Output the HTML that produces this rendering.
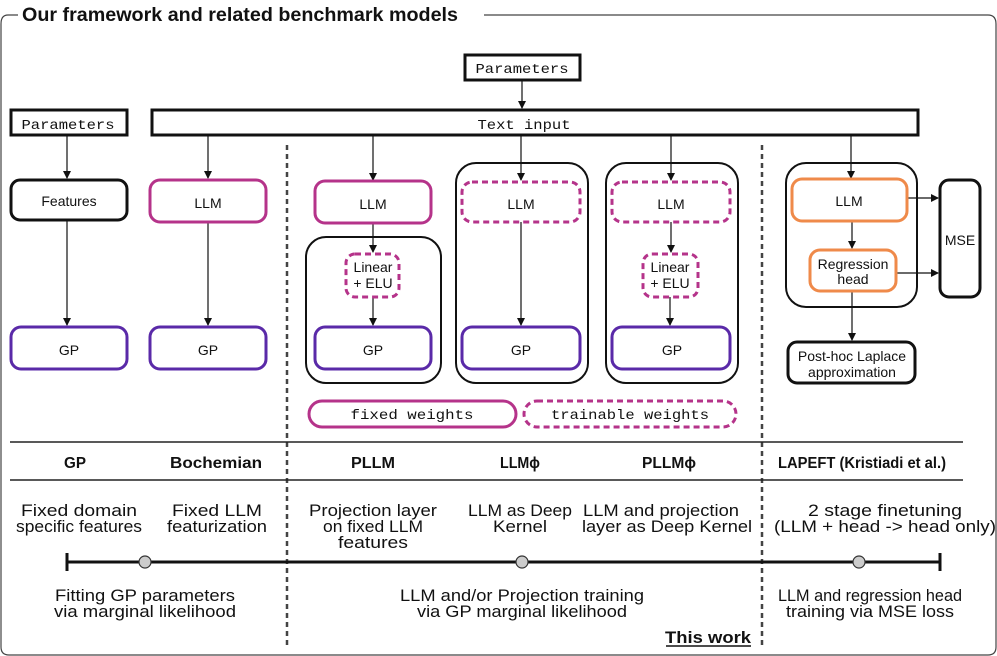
<!DOCTYPE html>
<html><head><meta charset="utf-8"><style>
html,body{margin:0;padding:0;background:#fff}
svg{display:block}
text{font-family:"Liberation Sans",sans-serif;fill:#111}
.m{font-family:"Liberation Mono",monospace}
</style></head><body>
<svg width="997" height="656" viewBox="0 0 997 656" xmlns="http://www.w3.org/2000/svg">
<defs><marker id="a" markerWidth="8" markerHeight="8" refX="7" refY="4" orient="auto" markerUnits="userSpaceOnUse"><path d="M0,0 L8,4 L0,8z" fill="#111"/></marker></defs>
<path d="M18,15 H8 Q1,15 1,24 V647 Q1,655 9,655 H988 Q996,655 996,647 V24 Q996,15 988,15 H484" fill="none" stroke="#444" stroke-width="1.2"/>
<text x="22" y="21" font-size="19" font-weight="bold" fill="#222" textLength="436" lengthAdjust="spacingAndGlyphs">Our framework and related benchmark models</text>
<line x1="287" y1="145" x2="287" y2="648" stroke="#444" stroke-width="2.5" stroke-dasharray="5,4"/>
<line x1="762" y1="145" x2="762" y2="648" stroke="#444" stroke-width="2.5" stroke-dasharray="5,4"/>
<g fill="none" stroke="#111" stroke-width="3">
<rect x="465" y="55" width="115" height="25"/>
<rect x="11" y="110" width="116" height="25"/>
<rect x="152" y="110" width="766" height="25"/>
</g>
<text class="m" x="522" y="73" font-size="14" text-anchor="middle" textLength="93" lengthAdjust="spacingAndGlyphs">Parameters</text>
<text class="m" x="68" y="129" font-size="14" text-anchor="middle" textLength="93" lengthAdjust="spacingAndGlyphs">Parameters</text>
<text class="m" x="524" y="129" font-size="14" text-anchor="middle" textLength="93" lengthAdjust="spacingAndGlyphs">Text input</text>
<g fill="none" stroke="#111" stroke-width="2">
<rect x="306" y="237" width="135" height="146" rx="20"/>
<rect x="456" y="163" width="132" height="220" rx="20"/>
<rect x="606" y="163" width="132" height="220" rx="20"/>
<rect x="786" y="163" width="131" height="144" rx="20"/>
</g>
<g stroke="#111" stroke-width="1.2" marker-end="url(#a)">
<line x1="522" y1="80" x2="522" y2="108"/>
<line x1="67" y1="135" x2="67" y2="178"/>
<line x1="208" y1="135" x2="208" y2="178"/>
<line x1="373" y1="135" x2="373" y2="180"/>
<line x1="521" y1="135" x2="521" y2="180"/>
<line x1="671" y1="135" x2="671" y2="180"/>
<line x1="851" y1="135" x2="851" y2="178"/>
<line x1="67" y1="220" x2="67" y2="325"/>
<line x1="208" y1="222" x2="208" y2="325"/>
<line x1="373" y1="223" x2="373" y2="252"/>
<line x1="373" y1="297" x2="373" y2="325"/>
<line x1="521" y1="222" x2="521" y2="325"/>
<line x1="671" y1="222" x2="671" y2="252"/>
<line x1="670" y1="297" x2="670" y2="325"/>
<line x1="852" y1="221" x2="852" y2="248"/>
<line x1="852" y1="291" x2="852" y2="340"/>
<line x1="907" y1="198" x2="938" y2="198"/>
<line x1="896" y1="273" x2="938" y2="273"/>
</g>
<rect x="11" y="180" width="116" height="40" rx="9" fill="#fff" stroke="#111" stroke-width="3"/>
<g fill="#fff" stroke="#b5338a" stroke-width="3">
<rect x="150" y="180" width="116" height="42" rx="10"/>
<rect x="315" y="181" width="116" height="42" rx="10"/>
<rect x="309" y="401" width="207" height="26" rx="13"/>
</g>
<g fill="#fff" stroke="#b5338a" stroke-width="3" stroke-dasharray="6,4">
<rect x="462" y="182" width="118" height="40" rx="10"/>
<rect x="612" y="182" width="118" height="40" rx="10"/>
<rect x="346" y="254" width="53" height="43" rx="9"/>
<rect x="643" y="254" width="55" height="43" rx="9"/>
<rect x="524" y="401" width="212" height="26" rx="13"/>
</g>
<g fill="#fff" stroke="#5a2aa8" stroke-width="3">
<rect x="11" y="327" width="116" height="42" rx="10"/>
<rect x="150" y="327" width="116" height="42" rx="10"/>
<rect x="315" y="327" width="116" height="42" rx="10"/>
<rect x="462" y="327" width="118" height="42" rx="10"/>
<rect x="612" y="327" width="118" height="42" rx="10"/>
</g>
<g fill="#fff" stroke="#ef8a4a" stroke-width="3">
<rect x="792" y="179" width="115" height="42" rx="10"/>
<rect x="810" y="250" width="86" height="41" rx="10"/>
</g>
<rect x="940" y="180" width="40" height="117" rx="9" fill="#fff" stroke="#111" stroke-width="3"/>
<rect x="788" y="342" width="127" height="41" rx="9" fill="#fff" stroke="#111" stroke-width="3"/>
<g font-size="14" text-anchor="middle">
<text x="69" y="206">Features</text>
<text x="208" y="208">LLM</text>
<text x="373" y="209">LLM</text>
<text x="521" y="209">LLM</text>
<text x="671" y="209">LLM</text>
<text x="849" y="206">LLM</text>
<text x="69" y="355">GP</text><text x="208" y="355">GP</text><text x="373" y="355">GP</text><text x="521" y="355">GP</text><text x="672" y="355">GP</text>
<text x="373" y="272">Linear</text><text x="373" y="288">+ ELU</text>
<text x="670" y="272">Linear</text><text x="670" y="288">+ ELU</text>
<text x="853" y="269">Regression</text><text x="853" y="284">head</text>
<text x="960" y="245">MSE</text>
<text x="852" y="361">Post-hoc Laplace</text><text x="852" y="377">approximation</text>
</g>
<text class="m" x="412" y="419" font-size="14" text-anchor="middle" textLength="123" lengthAdjust="spacingAndGlyphs">fixed weights</text>
<text class="m" x="630" y="419" font-size="14" text-anchor="middle" textLength="158" lengthAdjust="spacingAndGlyphs">trainable weights</text>
<line x1="10" y1="442" x2="963" y2="442" stroke="#222" stroke-width="1.5"/>
<line x1="10" y1="480" x2="963" y2="480" stroke="#222" stroke-width="1.5"/>
<g font-size="16" text-anchor="middle" font-weight="bold">
<text x="75" y="468" textLength="22" lengthAdjust="spacingAndGlyphs">GP</text>
<text x="216" y="468" textLength="92" lengthAdjust="spacingAndGlyphs">Bochemian</text>
<text x="373" y="468" textLength="44" lengthAdjust="spacingAndGlyphs">PLLM</text>
<text x="520" y="468" textLength="40" lengthAdjust="spacingAndGlyphs">LLMϕ</text>
<text x="669" y="468" textLength="54" lengthAdjust="spacingAndGlyphs">PLLMϕ</text>
<text x="862" y="468" textLength="168" lengthAdjust="spacingAndGlyphs">LAPEFT (Kristiadi et al.)</text>
</g>
<g font-size="17" text-anchor="middle">
<text x="79" y="516" textLength="116" lengthAdjust="spacingAndGlyphs">Fixed domain</text><text x="79" y="532" textLength="126" lengthAdjust="spacingAndGlyphs">specific features</text>
<text x="217" y="516" textLength="90" lengthAdjust="spacingAndGlyphs">Fixed LLM</text><text x="217" y="532" textLength="100" lengthAdjust="spacingAndGlyphs">featurization</text>
<text x="373" y="516" textLength="128" lengthAdjust="spacingAndGlyphs">Projection layer</text><text x="373" y="532" textLength="100" lengthAdjust="spacingAndGlyphs">on fixed LLM</text><text x="373" y="548" textLength="70" lengthAdjust="spacingAndGlyphs">features</text>
<text x="520" y="516" textLength="104" lengthAdjust="spacingAndGlyphs">LLM as Deep</text><text x="520" y="532" textLength="54" lengthAdjust="spacingAndGlyphs">Kernel</text>
<text x="661" y="516" textLength="156" lengthAdjust="spacingAndGlyphs">LLM and projection</text><text x="667" y="532" textLength="170" lengthAdjust="spacingAndGlyphs">layer as Deep Kernel</text>
<text x="885" y="516" textLength="154" lengthAdjust="spacingAndGlyphs">2 stage finetuning</text><text x="885" y="532" textLength="222" lengthAdjust="spacingAndGlyphs">(LLM + head  -&gt; head only)</text>
<text x="145" y="601" textLength="180" lengthAdjust="spacingAndGlyphs">Fitting GP parameters</text><text x="145" y="617" textLength="182" lengthAdjust="spacingAndGlyphs">via marginal likelihood</text>
<text x="522" y="601" textLength="244" lengthAdjust="spacingAndGlyphs">LLM and/or Projection training</text><text x="522" y="617" textLength="210" lengthAdjust="spacingAndGlyphs">via GP marginal likelihood</text>
<text x="870" y="601" textLength="184" lengthAdjust="spacingAndGlyphs">LLM and regression head</text><text x="870" y="617" textLength="168" lengthAdjust="spacingAndGlyphs">training via MSE loss</text>
<text x="708" y="643" font-weight="bold" textLength="86" lengthAdjust="spacingAndGlyphs">This work</text>
</g>
<line x1="666" y1="646" x2="751" y2="646" stroke="#111" stroke-width="1.5"/>
<line x1="67" y1="562" x2="940" y2="562" stroke="#111" stroke-width="3"/>
<line x1="67" y1="553" x2="67" y2="571" stroke="#111" stroke-width="3"/>
<line x1="940" y1="553" x2="940" y2="571" stroke="#111" stroke-width="3"/>
<g fill="#ccc" stroke="#333" stroke-width="1.2">
<circle cx="145" cy="562" r="6"/><circle cx="522" cy="562" r="6"/><circle cx="859" cy="562" r="6"/>
</g>
</svg>
</body></html>
